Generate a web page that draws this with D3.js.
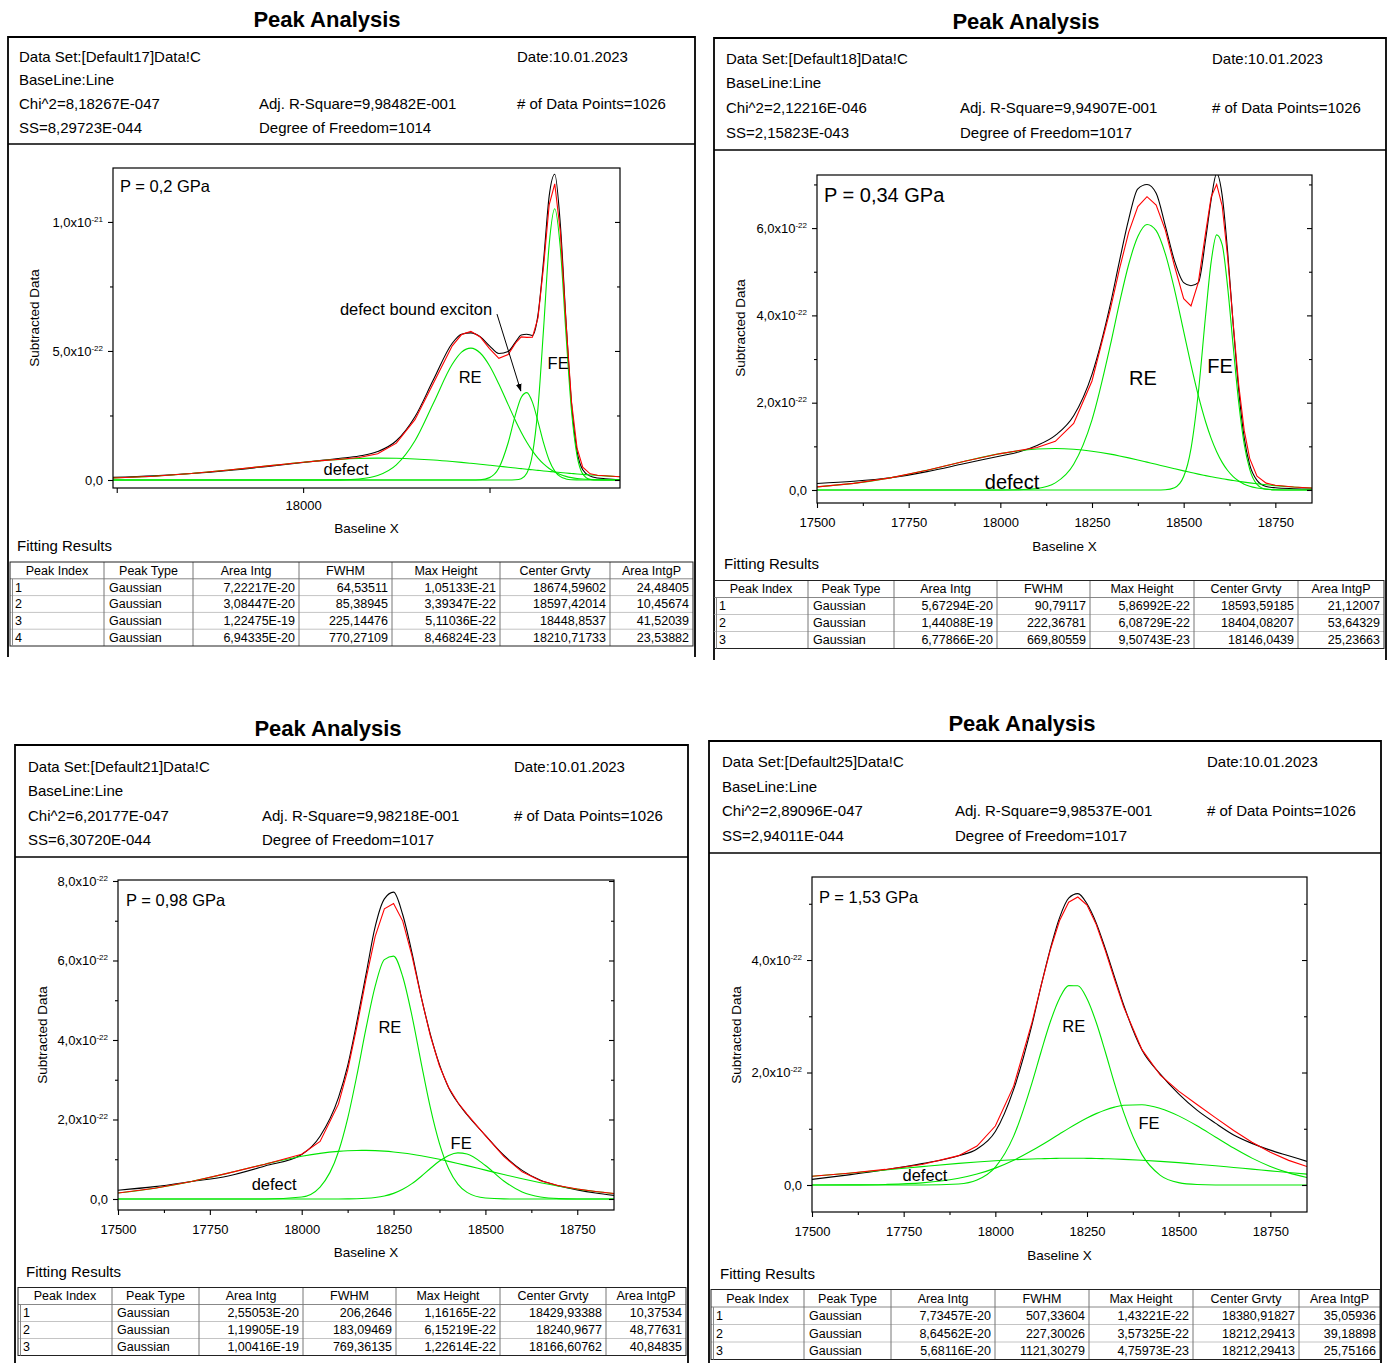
<!DOCTYPE html>
<html>
<head>
<meta charset="utf-8">
<script src="https://cdn.jsdelivr.net/npm/d3@7"></script>
<style>
  body { margin: 0; background: #fff; }
  svg { display: block; font-family: "Liberation Sans", Arial, sans-serif; }
</style>
</head>
<body>
<svg id="chart" width="1392" height="1363"></svg>
<script>
// y values are in units of 1e-22 (Subtracted Data)

var TABLE_HEAD = ["Peak Index", "Peak Type", "Area Intg", "FWHM", "Max Height", "Center Grvty", "Area IntgP"];

// ---------- P = 0,2 GPa ----------
var P1_X = [17490, 17600, 17700, 17800, 17900, 18000, 18050, 18100, 18150, 18200, 18250, 18300, 18350, 18400, 18425, 18450, 18475, 18500, 18525, 18550, 18570, 18585, 18600, 18615, 18630, 18645, 18660, 18675, 18690, 18705, 18720, 18735, 18750, 18770, 18790, 18810, 18830, 18850];
var P1_DATA = [0.10, 0.16, 0.25, 0.37, 0.52, 0.68, 0.76, 0.84, 0.93, 1.10, 1.52, 2.45, 3.90, 5.30, 5.65, 5.70, 5.55, 5.20, 4.90, 4.98, 5.35, 5.62, 5.65, 5.60, 6.40, 8.50, 11.0, 11.85, 9.90, 6.20, 2.95, 1.10, 0.40, 0.15, 0.08, 0.05, 0.03, 0.02];
var P1_FIT = [0.075, 0.148, 0.250, 0.385, 0.539, 0.688, 0.752, 0.807, 0.872, 1.020, 1.429, 2.337, 3.768, 5.201, 5.637, 5.759, 5.544, 5.094, 4.717, 4.859, 5.309, 5.544, 5.525, 5.529, 6.284, 8.276, 10.663, 11.478, 9.610, 6.135, 3.020, 1.221, 0.493, 0.239, 0.187, 0.162, 0.143, 0.126];
var P1_PEAK1 = [0, 0, 0, 0, 0, 0, 0, 0, 0, 0, 0, 0, 0, 0, 0, 0, 0, 0, 0, 0.0003, 0.007, 0.050, 0.259, 0.988, 2.796, 5.867, 9.122, 10.513, 8.978, 5.682, 2.665, 0.926, 0.239, 0.025, 0.0015, 0, 0, 0];
var P1_PEAK2 = [0, 0, 0, 0, 0, 0, 0, 0, 0, 0, 0, 0, 0, 0, 0, 0.001, 0.011, 0.092, 0.462, 1.444, 2.550, 3.200, 3.385, 3.017, 2.266, 1.435, 0.765, 0.344, 0.130, 0.042, 0.011, 0.003, 0.0005, 0, 0, 0, 0, 0];
var P1_PEAK3 = [0, 0, 0, 0, 0, 0, 0.0008, 0.0066, 0.039, 0.173, 0.588, 1.521, 2.994, 4.485, 4.954, 5.110, 4.922, 4.429, 3.721, 2.920, 2.289, 1.854, 1.464, 1.129, 0.849, 0.623, 0.446, 0.312, 0.212, 0.141, 0.092, 0.058, 0.036, 0.018, 0.009, 0.004, 0.002, 0.001];
var P1_PEAK4 = [0.075, 0.148, 0.250, 0.385, 0.539, 0.688, 0.751, 0.800, 0.833, 0.847, 0.841, 0.816, 0.774, 0.716, 0.683, 0.648, 0.611, 0.573, 0.534, 0.495, 0.463, 0.440, 0.417, 0.395, 0.373, 0.351, 0.330, 0.309, 0.290, 0.270, 0.252, 0.234, 0.218, 0.196, 0.177, 0.158, 0.141, 0.125];
var P1_XTICKS = [17500, 18000, 18500];
var P1_XLABELS = ["", "18000", ""];
var P1_YTICKS = [0, 5, 10];
var P1_YMINOR = [2.5, 7.5];
var P1_YLABELS = [["0,0", ""], ["5,0x10", "-22"], ["1,0x10", "-21"]];
var P1_INFO = [
  ["Data Set:[Default17]Data!C", "", "Date:10.01.2023"],
  ["BaseLine:Line", "", ""],
  ["Chi^2=8,18267E-047", "Adj. R-Square=9,98482E-001", "# of Data Points=1026"],
  ["SS=8,29723E-044", "Degree of Freedom=1014", ""]
];
var P1_TABLE = [
  ["1", "Gaussian", "7,22217E-20", "64,53511", "1,05133E-21", "18674,59602", "24,48405"],
  ["2", "Gaussian", "3,08447E-20", "85,38945", "3,39347E-22", "18597,42014", "10,45674"],
  ["3", "Gaussian", "1,22475E-19", "225,14476", "5,11036E-22", "18448,8537", "41,52039"],
  ["4", "Gaussian", "6,94335E-20", "770,27109", "8,46824E-23", "18210,71733", "23,53882"]
];

// ---------- P = 0,34 GPa ----------
var P2_X = [17500, 17600, 17700, 17800, 17900, 18000, 18050, 18100, 18150, 18200, 18250, 18300, 18325, 18350, 18375, 18400, 18425, 18450, 18475, 18500, 18520, 18540, 18560, 18575, 18590, 18605, 18620, 18635, 18650, 18665, 18680, 18700, 18725, 18750, 18800, 18850];
var P2_DATA = [0.15, 0.20, 0.28, 0.42, 0.60, 0.78, 0.87, 1.02, 1.25, 1.70, 2.65, 4.25, 5.25, 6.20, 6.90, 7.00, 6.80, 6.05, 5.25, 4.75, 4.68, 4.75, 5.75, 6.65, 7.25, 6.75, 5.45, 3.80, 2.30, 1.20, 0.58, 0.22, 0.08, 0.05, 0.03, 0.02];
var P2_FIT = [0.072, 0.151, 0.278, 0.454, 0.654, 0.834, 0.903, 0.972, 1.114, 1.523, 2.497, 4.137, 5.067, 5.901, 6.493, 6.720, 6.528, 5.952, 5.131, 4.381, 4.216, 4.758, 5.903, 6.713, 7.002, 6.511, 5.326, 3.821, 2.416, 1.371, 0.725, 0.318, 0.157, 0.109, 0.069, 0.044];
var P2_PEAK1 = [0, 0, 0, 0, 0, 0, 0, 0, 0, 0, 0, 0, 0, 0, 0, 0, 0.0004, 0.006, 0.052, 0.308, 0.949, 2.233, 4.015, 5.225, 5.844, 5.619, 4.643, 3.298, 2.013, 1.057, 0.477, 0.130, 0.018, 0.002, 0, 0];
var P2_PEAK2 = [0, 0, 0, 0, 0, 0.001, 0.005, 0.034, 0.163, 0.589, 1.608, 3.316, 4.287, 5.166, 5.805, 6.082, 5.940, 5.409, 4.592, 3.635, 2.866, 2.161, 1.558, 1.183, 0.877, 0.633, 0.446, 0.306, 0.205, 0.134, 0.085, 0.045, 0.019, 0.007, 0.001, 0];
var P2_PEAK3 = [0.072, 0.151, 0.278, 0.454, 0.654, 0.833, 0.898, 0.938, 0.951, 0.934, 0.889, 0.821, 0.780, 0.735, 0.688, 0.638, 0.588, 0.537, 0.487, 0.438, 0.401, 0.364, 0.330, 0.305, 0.281, 0.259, 0.237, 0.217, 0.198, 0.180, 0.163, 0.143, 0.120, 0.100, 0.068, 0.044];
var P2_YTICKS = [0, 2, 4, 6];
var P2_YMINOR = [1, 3, 5, 7];
var P2_YLABELS = [["0,0", ""], ["2,0x10", "-22"], ["4,0x10", "-22"], ["6,0x10", "-22"]];
var P2_INFO = [
  ["Data Set:[Default18]Data!C", "", "Date:10.01.2023"],
  ["BaseLine:Line", "", ""],
  ["Chi^2=2,12216E-046", "Adj. R-Square=9,94907E-001", "# of Data Points=1026"],
  ["SS=2,15823E-043", "Degree of Freedom=1017", ""]
];
var P2_TABLE = [
  ["1", "Gaussian", "5,67294E-20", "90,79117", "5,86992E-22", "18593,59185", "21,12007"],
  ["2", "Gaussian", "1,44088E-19", "222,36781", "6,08729E-22", "18404,08207", "53,64329"],
  ["3", "Gaussian", "6,77866E-20", "669,80559", "9,50743E-23", "18146,0439", "25,23663"]
];

// ---------- P = 0,98 GPa ----------
var P3_X = [17500, 17600, 17700, 17800, 17900, 18000, 18050, 18100, 18125, 18150, 18175, 18200, 18225, 18250, 18275, 18300, 18325, 18350, 18375, 18400, 18425, 18450, 18500, 18550, 18600, 18650, 18700, 18750, 18800, 18850];
var P3_DATA = [0.22, 0.31, 0.44, 0.58, 0.83, 1.12, 1.58, 2.55, 3.35, 4.45, 5.65, 6.85, 7.55, 7.72, 7.15, 6.20, 5.10, 4.15, 3.38, 2.80, 2.42, 2.12, 1.60, 1.10, 0.72, 0.47, 0.33, 0.23, 0.15, 0.09];
var P3_FIT = [0.152, 0.272, 0.441, 0.651, 0.876, 1.124, 1.448, 2.386, 3.238, 4.329, 5.529, 6.607, 7.301, 7.435, 6.991, 6.124, 5.086, 4.113, 3.345, 2.803, 2.428, 2.137, 1.593, 1.070, 0.683, 0.458, 0.332, 0.250, 0.187, 0.137];
var P3_PEAK1 = [0, 0, 0, 0, 0, 0, 0.0001, 0.001, 0.003, 0.007, 0.017, 0.037, 0.075, 0.141, 0.243, 0.386, 0.567, 0.766, 0.954, 1.096, 1.160, 1.132, 0.843, 0.454, 0.176, 0.049, 0.010, 0.0015, 0.0001, 0];
var P3_PEAK2 = [0, 0, 0, 0, 0.0004, 0.050, 0.301, 1.188, 2.022, 3.101, 4.290, 5.354, 6.023, 6.111, 5.591, 4.613, 3.432, 2.303, 1.393, 0.760, 0.374, 0.166, 0.024, 0.002, 0, 0, 0, 0, 0, 0];
var P3_PEAK3 = [0.152, 0.272, 0.441, 0.651, 0.876, 1.074, 1.147, 1.197, 1.213, 1.221, 1.222, 1.216, 1.203, 1.183, 1.157, 1.125, 1.087, 1.044, 0.998, 0.947, 0.894, 0.839, 0.726, 0.614, 0.507, 0.409, 0.322, 0.248, 0.187, 0.137];
var P3_YTICKS = [0, 2, 4, 6, 8];
var P3_YMINOR = [1, 3, 5, 7];
var P3_YLABELS = [["0,0", ""], ["2,0x10", "-22"], ["4,0x10", "-22"], ["6,0x10", "-22"], ["8,0x10", "-22"]];
var P3_INFO = [
  ["Data Set:[Default21]Data!C", "", "Date:10.01.2023"],
  ["BaseLine:Line", "", ""],
  ["Chi^2=6,20177E-047", "Adj. R-Square=9,98218E-001", "# of Data Points=1026"],
  ["SS=6,30720E-044", "Degree of Freedom=1017", ""]
];
var P3_TABLE = [
  ["1", "Gaussian", "2,55053E-20", "206,2646", "1,16165E-22", "18429,93388", "10,37534"],
  ["2", "Gaussian", "1,19905E-19", "183,09469", "6,15219E-22", "18240,9677", "48,77631"],
  ["3", "Gaussian", "1,00416E-19", "769,36135", "1,22614E-22", "18166,60762", "40,84835"]
];

// ---------- P = 1,53 GPa ----------
var P4_X = [17500, 17600, 17700, 17800, 17900, 17950, 18000, 18050, 18100, 18125, 18150, 18175, 18200, 18225, 18250, 18275, 18300, 18325, 18350, 18400, 18450, 18500, 18550, 18600, 18650, 18700, 18750, 18800, 18850];
var P4_DATA = [0.10, 0.18, 0.27, 0.38, 0.52, 0.64, 0.95, 1.70, 2.85, 3.55, 4.20, 4.75, 5.10, 5.18, 5.00, 4.66, 4.20, 3.70, 3.20, 2.40, 1.97, 1.62, 1.33, 1.10, 0.89, 0.74, 0.62, 0.52, 0.42];
var P4_FIT = [0.156, 0.210, 0.277, 0.365, 0.522, 0.692, 1.049, 1.758, 2.891, 3.549, 4.180, 4.698, 5.027, 5.121, 4.976, 4.634, 4.168, 3.655, 3.166, 2.407, 1.952, 1.668, 1.431, 1.197, 0.969, 0.760, 0.582, 0.438, 0.328];
var P4_PEAK1 = [0.0003, 0.002, 0.010, 0.038, 0.119, 0.194, 0.300, 0.440, 0.612, 0.707, 0.806, 0.907, 1.007, 1.102, 1.191, 1.269, 1.335, 1.385, 1.418, 1.427, 1.360, 1.229, 1.053, 0.854, 0.657, 0.478, 0.330, 0.216, 0.134];
var P4_PEAK2 = [0, 0, 0, 0.0004, 0.019, 0.089, 0.318, 0.869, 1.816, 2.374, 2.902, 3.316, 3.544, 3.543, 3.311, 2.893, 2.365, 1.807, 1.292, 0.540, 0.172, 0.042, 0.008, 0.001, 0, 0, 0, 0, 0];
var P4_PEAK3 = [0.156, 0.208, 0.267, 0.327, 0.384, 0.409, 0.431, 0.449, 0.463, 0.468, 0.472, 0.475, 0.476, 0.476, 0.474, 0.472, 0.468, 0.463, 0.456, 0.440, 0.420, 0.397, 0.370, 0.342, 0.312, 0.282, 0.252, 0.222, 0.194];
var P4_YTICKS = [0, 2, 4];
var P4_YMINOR = [1, 3, 5];
var P4_YLABELS = [["0,0", ""], ["2,0x10", "-22"], ["4,0x10", "-22"]];
var P4_INFO = [
  ["Data Set:[Default25]Data!C", "", "Date:10.01.2023"],
  ["BaseLine:Line", "", ""],
  ["Chi^2=2,89096E-047", "Adj. R-Square=9,98537E-001", "# of Data Points=1026"],
  ["SS=2,94011E-044", "Degree of Freedom=1017", ""]
];
var P4_TABLE = [
  ["1", "Gaussian", "7,73457E-20", "507,33604", "1,43221E-22", "18380,91827", "35,05936"],
  ["2", "Gaussian", "8,64562E-20", "227,30026", "3,57325E-22", "18212,29413", "39,18898"],
  ["3", "Gaussian", "5,68116E-20", "1121,30279", "4,75973E-23", "18212,29413", "25,75166"]
];

// shared x ticks for the last three panels
var XTICKS = [17500, 17750, 18000, 18250, 18500, 18750];
var XLABELS = ["17500", "17750", "18000", "18250", "18500", "18750"];
var XMINOR = [17625, 17875, 18125, 18375, 18625];

var panels = [
  {
    x: P1_X, data: P1_DATA, fit: P1_FIT, peaks: [P1_PEAK1, P1_PEAK2, P1_PEAK3, P1_PEAK4],
    xTicks: P1_XTICKS, xLabels: P1_XLABELS, xMinor: [],
    yTicks: P1_YTICKS, yMinor: P1_YMINOR, yLabels: P1_YLABELS,
    info: P1_INFO, table: P1_TABLE, pText: "P = 0,2 GPa",
    box: {l: 8, t: 37, r: 695, b: 657}, titleX: 327, titleY: 19,
    hdrX: [19, 259, 517], hdrY: [57, 80, 104, 128], divY: 144,
    frame: {l: 113, t: 168, r: 620, b: 488}, xDom: [17490, 18850], yDom: [-0.31, 12.09],
    pPos: [120, 186], pSize: 16.5, labSize: 16.5, xPad: 8,
    yTitleX: 34, yTitleY: 318, xTitleY: 528, fitPos: [17, 546],
    tab: {top: 562, rowH: 16.8, cols: [10, 104, 193, 299, 392, 500, 610, 693]},
    notes: [["RE", 18448, 3.99], ["FE", 18684, 4.53], ["defect", 18115, 0.43], ["defect bound exciton", 18303, 6.63]],
    arrow: [18520, 6.43, 18584, 3.45]
  },
  {
    x: P2_X, data: P2_DATA, fit: P2_FIT, peaks: [P2_PEAK1, P2_PEAK2, P2_PEAK3],
    xTicks: XTICKS, xLabels: XLABELS, xMinor: XMINOR,
    yTicks: P2_YTICKS, yMinor: P2_YMINOR, yLabels: P2_YLABELS,
    info: P2_INFO, table: P2_TABLE, pText: "P = 0,34 GPa",
    box: {l: 714, t: 38, r: 1386, b: 660}, titleX: 1026, titleY: 21,
    hdrX: [726, 960, 1212], hdrY: [59, 83, 108, 133], divY: 150,
    frame: {l: 817, t: 175, r: 1312, b: 503}, xDom: [17500, 18850], yDom: [-0.298, 7.216],
    pPos: [824, 195], pSize: 20, labSize: 20, xPad: 10,
    yTitleX: 740, yTitleY: 328, xTitleY: 546, fitPos: [724, 564],
    tab: {top: 580.5, rowH: 17, cols: [714, 808, 894, 997, 1090, 1194, 1298, 1384]},
    notes: [["RE", 18389, 2.57], ["FE", 18599, 2.84], ["defect", 18032, 0.18]]
  },
  {
    x: P3_X, data: P3_DATA, fit: P3_FIT, peaks: [P3_PEAK1, P3_PEAK2, P3_PEAK3],
    xTicks: XTICKS, xLabels: XLABELS, xMinor: XMINOR,
    yTicks: P3_YTICKS, yMinor: P3_YMINOR, yLabels: P3_YLABELS,
    info: P3_INFO, table: P3_TABLE, pText: "P = 0,98 GPa",
    box: {l: 15, t: 745, r: 688, b: 1363}, titleX: 328, titleY: 728,
    hdrX: [28, 262, 514], hdrY: [767, 791, 816, 840], divY: 857,
    frame: {l: 118, t: 880, r: 614, b: 1210}, xDom: [17500, 18850], yDom: [-0.277, 8.025],
    pPos: [126, 900], pSize: 16.5, labSize: 16.5, xPad: 10,
    yTitleX: 42, yTitleY: 1035, xTitleY: 1252, fitPos: [26, 1272],
    tab: {top: 1287.5, rowH: 17, cols: [18, 112, 199, 303, 396, 500, 606, 686]},
    notes: [["RE", 18240, 4.33], ["FE", 18434, 1.41], ["defect", 17925, 0.38]]
  },
  {
    x: P4_X, data: P4_DATA, fit: P4_FIT, peaks: [P4_PEAK1, P4_PEAK2, P4_PEAK3],
    xTicks: XTICKS, xLabels: XLABELS, xMinor: XMINOR,
    yTicks: P4_YTICKS, yMinor: P4_YMINOR, yLabels: P4_YLABELS,
    info: P4_INFO, table: P4_TABLE, pText: "P = 1,53 GPa",
    box: {l: 709, t: 741, r: 1381, b: 1363}, titleX: 1022, titleY: 723,
    hdrX: [722, 955, 1207], hdrY: [762, 787, 811, 836], divY: 853,
    frame: {l: 812, t: 877, r: 1307, b: 1212}, xDom: [17500, 18850], yDom: [-0.48, 5.476],
    pPos: [819, 897], pSize: 16.5, labSize: 16.5, xPad: 10,
    yTitleX: 736, yTitleY: 1035, xTitleY: 1255, fitPos: [720, 1274],
    tab: {top: 1289.5, rowH: 17.5, cols: [711, 804, 891, 995, 1089, 1193, 1299, 1380]},
    notes: [["RE", 18214, 2.83], ["FE", 18419, 1.10], ["defect", 17808, 0.18]]
  }
];

var svg = d3.select("#chart");

svg.append("defs").append("marker")
    .attr("id", "arrowhead")
    .attr("viewBox", "0 0 10 10")
    .attr("refX", 9).attr("refY", 5)
    .attr("markerWidth", 8).attr("markerHeight", 8)
    .attr("orient", "auto")
  .append("path")
    .attr("d", "M0,1.5L10,5L0,8.5Z")
    .attr("fill", "#000");

function drawPanel(p, idx) {
  var g = svg.append("g");
  var b = p.box, f = p.frame;

  // report box (open at the bottom)
  g.append("path")
      .attr("d", "M" + b.l + "," + b.b + "V" + b.t + "H" + b.r + "V" + b.b)
      .attr("fill", "none").attr("stroke", "#000").attr("stroke-width", 1.8);

  g.append("text")
      .attr("x", p.titleX).attr("y", p.titleY).attr("dy", "0.35em")
      .attr("text-anchor", "middle")
      .style("font-size", "22px").style("font-weight", "bold")
      .text("Peak Analysis");

  p.info.forEach(function(row, r) {
    row.forEach(function(txt, c) {
      if (!txt) return;
      g.append("text")
          .attr("x", p.hdrX[c]).attr("y", p.hdrY[r]).attr("dy", "0.35em")
          .style("font-size", "15px")
          .text(txt);
    });
  });

  g.append("line")
      .attr("x1", b.l).attr("x2", b.r).attr("y1", p.divY).attr("y2", p.divY)
      .attr("stroke", "#000").attr("stroke-width", 1.3);

  // plot
  var x = d3.scaleLinear().domain(p.xDom).range([f.l, f.r]);
  var y = d3.scaleLinear().domain(p.yDom).range([f.b, f.t]);

  var clipId = "clip" + idx;
  g.append("clipPath").attr("id", clipId)
    .append("rect").attr("x", f.l).attr("y", f.t).attr("width", f.r - f.l).attr("height", f.b - f.t);

  var line = function(ys, curve) {
    return d3.line()
        .x(function(d, i) { return x(p.x[i]); })
        .y(function(d) { return y(d); })
        .curve(curve)(ys);
  };

  var plot = g.append("g").attr("clip-path", "url(#" + clipId + ")");

  plot.append("path")
      .attr("d", line(p.data, d3.curveMonotoneX))
      .attr("fill", "none").attr("stroke", "#000").attr("stroke-width", 1.1);

  p.peaks.forEach(function(pk) {
    plot.append("path")
        .attr("d", line(pk, d3.curveMonotoneX))
        .attr("fill", "none").attr("stroke", "#00e600").attr("stroke-width", 1.1);
  });

  plot.append("path")
      .attr("d", line(p.fit, d3.curveLinear))
      .attr("fill", "none").attr("stroke", "#ff0000").attr("stroke-width", 1.1);

  // axes
  var xAx = g.append("g").attr("transform", "translate(0," + f.b + ")")
      .call(d3.axisBottom(x).tickValues(p.xTicks).tickSize(5).tickPadding(p.xPad)
        .tickFormat(function(d, i) { return p.xLabels[i]; }));
  xAx.selectAll(".tick text").style("font-size", "13px");
  if (p.xMinor.length) {
    g.append("g").attr("transform", "translate(0," + f.b + ")")
        .call(d3.axisBottom(x).tickValues(p.xMinor).tickSize(3).tickFormat(""));
  }

  var yAx = g.append("g").attr("transform", "translate(" + f.l + ",0)")
      .call(d3.axisLeft(y).tickValues(p.yTicks).tickSize(5).tickPadding(5).tickFormat(""));
  yAx.selectAll(".tick text").each(function(d, i) {
    var t = d3.select(this).style("font-size", "13px");
    t.append("tspan").text(p.yLabels[i][0]);
    if (p.yLabels[i][1]) {
      t.append("tspan").attr("dy", -5).style("font-size", "8px").text(p.yLabels[i][1]);
    }
  });
  g.append("g").attr("transform", "translate(" + f.l + ",0)")
      .call(d3.axisLeft(y).tickValues(p.yMinor).tickSize(3).tickFormat(""));

  // mirrored ticks on the right side
  g.append("g").attr("transform", "translate(" + f.r + ",0)")
      .call(d3.axisLeft(y).tickValues(p.yTicks).tickSize(5).tickFormat(""));
  g.append("g").attr("transform", "translate(" + f.r + ",0)")
      .call(d3.axisLeft(y).tickValues(p.yMinor).tickSize(3).tickFormat(""));

  g.selectAll(".domain").remove();
  g.selectAll(".tick line").attr("stroke", "#000").attr("stroke-width", 1.1);

  g.append("rect")
      .attr("x", f.l).attr("y", f.t).attr("width", f.r - f.l).attr("height", f.b - f.t)
      .attr("fill", "none").attr("stroke", "#000").attr("stroke-width", 1.2);

  g.append("text")
      .attr("transform", "translate(" + p.yTitleX + "," + p.yTitleY + ") rotate(-90)")
      .attr("text-anchor", "middle").attr("dy", "0.35em")
      .style("font-size", "13.5px")
      .text("Subtracted Data");

  g.append("text")
      .attr("x", (f.l + f.r) / 2).attr("y", p.xTitleY).attr("dy", "0.35em")
      .attr("text-anchor", "middle")
      .style("font-size", "13.5px")
      .text("Baseline X");

  g.append("text")
      .attr("x", p.pPos[0]).attr("y", p.pPos[1]).attr("dy", "0.35em")
      .style("font-size", p.pSize + "px")
      .text(p.pText);

  p.notes.forEach(function(n) {
    g.append("text")
        .attr("x", x(n[1])).attr("y", y(n[2])).attr("dy", "0.35em")
        .attr("text-anchor", "middle")
        .style("font-size", p.labSize + "px")
        .text(n[0]);
  });

  if (p.arrow) {
    g.append("line")
        .attr("x1", x(p.arrow[0])).attr("y1", y(p.arrow[1]))
        .attr("x2", x(p.arrow[2])).attr("y2", y(p.arrow[3]))
        .attr("stroke", "#000").attr("stroke-width", 1)
        .attr("marker-end", "url(#arrowhead)");
  }

  // fitting results table
  g.append("text")
      .attr("x", p.fitPos[0]).attr("y", p.fitPos[1]).attr("dy", "0.35em")
      .style("font-size", "15px")
      .text("Fitting Results");

  var t = p.tab, cols = t.cols;
  var nRows = p.table.length + 1;
  var tBottom = t.top + nRows * t.rowH;

  for (var r = 1; r < nRows; r++) {
    g.append("line")
        .attr("x1", cols[0]).attr("x2", cols[cols.length - 1])
        .attr("y1", t.top + r * t.rowH).attr("y2", t.top + r * t.rowH)
        .attr("stroke", r === 1 ? "#888" : "#c4c4c4").attr("stroke-width", 1);
  }
  for (var c = 1; c < cols.length - 1; c++) {
    g.append("line")
        .attr("x1", cols[c]).attr("x2", cols[c])
        .attr("y1", t.top).attr("y2", tBottom)
        .attr("stroke", "#777").attr("stroke-width", 1);
  }
  g.append("rect")
      .attr("x", cols[0]).attr("y", t.top)
      .attr("width", cols[cols.length - 1] - cols[0]).attr("height", tBottom - t.top)
      .attr("fill", "none").attr("stroke", "#222").attr("stroke-width", 1);
  g.append("line")
      .attr("x1", cols[0] + 2.5).attr("x2", cols[0] + 2.5)
      .attr("y1", t.top + t.rowH).attr("y2", tBottom)
      .attr("stroke", "#888").attr("stroke-width", 1);

  TABLE_HEAD.forEach(function(h, c) {
    g.append("text")
        .attr("x", (cols[c] + cols[c + 1]) / 2).attr("y", t.top + t.rowH / 2).attr("dy", "0.35em")
        .attr("text-anchor", "middle")
        .style("font-size", "12.5px")
        .text(h);
  });

  p.table.forEach(function(row, r) {
    var cy = t.top + (r + 1.5) * t.rowH;
    row.forEach(function(v, c) {
      var left = c < 2;
      g.append("text")
          .attr("x", left ? cols[c] + 5 : cols[c + 1] - 4)
          .attr("y", cy).attr("dy", "0.35em")
          .attr("text-anchor", left ? "start" : "end")
          .style("font-size", "12.5px")
          .text(v);
    });
  });
}

panels.forEach(drawPanel);
</script>
</body>
</html>
